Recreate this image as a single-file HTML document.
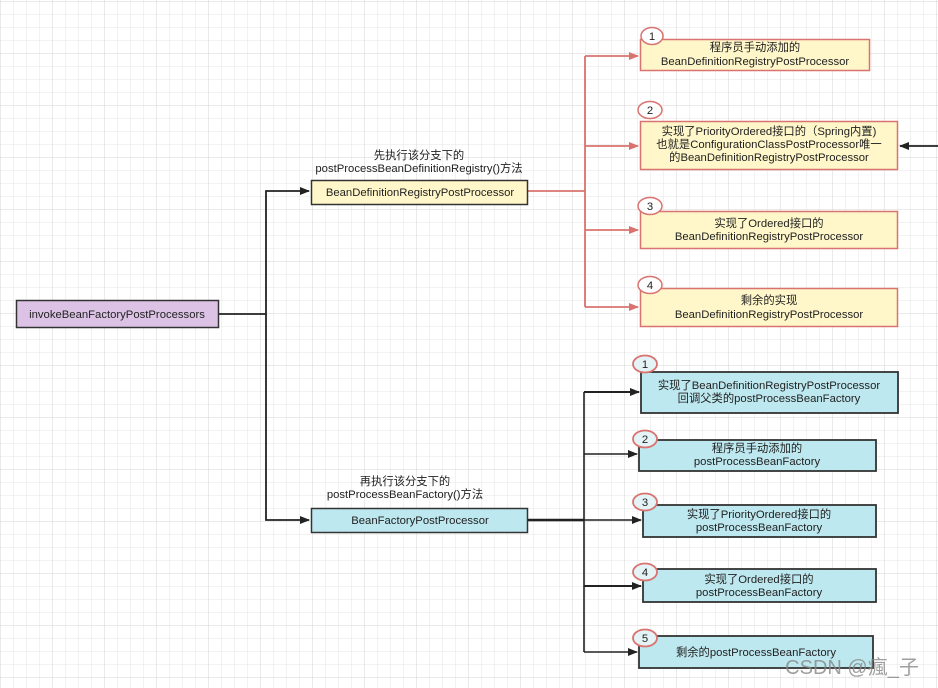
<!DOCTYPE html>
<html><head><meta charset="utf-8"><style>
html,body{margin:0;padding:0;background:#fff}
svg{display:block}
text{font-family:"Liberation Sans","Noto Sans CJK SC",sans-serif;font-size:11.3px;fill:#222}
</style></head><body>
<svg width="938" height="688" viewBox="0 0 938 688" xmlns="http://www.w3.org/2000/svg">
<defs>
<pattern id="g" width="13" height="13" patternUnits="userSpaceOnUse" x="1" y="2">
<path d="M13 0V13M0 13H13" fill="none" stroke="#e6e6e6" stroke-width="1"/>
</pattern>
<pattern id="G" width="52" height="52" patternUnits="userSpaceOnUse" x="1" y="2">
<path d="M52 0V52M0 52H52" fill="none" stroke="#d6d6d6" stroke-width="1"/>
</pattern>
<marker id="ab" markerWidth="10" markerHeight="8" refX="9" refY="4" orient="auto" markerUnits="userSpaceOnUse"><path d="M0,0L10,4L0,8z" fill="#222"/></marker>
<marker id="ar" markerWidth="10" markerHeight="8" refX="9" refY="4" orient="auto" markerUnits="userSpaceOnUse"><path d="M0,0L10,4L0,8z" fill="#d9736f"/></marker>
</defs>
<rect width="938" height="688" fill="#fff"/>
<rect width="938" height="688" fill="url(#g)"/>
<rect width="938" height="688" fill="url(#G)"/>

<path d="M219 314H266V191H309" fill="none" stroke="#222" stroke-width="1.8" marker-end="url(#ab)"/>
<path d="M266 314V520H309" fill="none" stroke="#222" stroke-width="1.8" marker-end="url(#ab)"/>

<g fill="none" stroke="#d9736f" stroke-width="1.8">
<path d="M528 191H585"/>
<path d="M585 56V307"/>
<path d="M585 56H638" marker-end="url(#ar)"/>
<path d="M585 146H638" marker-end="url(#ar)"/>
<path d="M585 230H638" marker-end="url(#ar)"/>
<path d="M585 307H638" marker-end="url(#ar)"/>
</g>
<path d="M938 146H900" stroke="#222" stroke-width="1.8" marker-end="url(#ab)"/>

<g fill="none" stroke="#222" stroke-width="1.6">
<path d="M528 520H584" stroke-width="2.4"/>
<path d="M584 392V652"/>
<path d="M584 392H639" stroke-width="2" marker-end="url(#ab)"/>
<path d="M584 454H637" marker-end="url(#ab)"/>
<path d="M584 520H641" marker-end="url(#ab)"/>
<path d="M584 586H641" stroke-width="2" marker-end="url(#ab)"/>
<path d="M584 652H637" marker-end="url(#ab)"/>
</g>

<rect x="16.5" y="300.5" width="202" height="27" fill="#dcc3e6" stroke="#333" stroke-width="1.5"/>
<text x="117" y="318" text-anchor="middle">invokeBeanFactoryPostProcessors</text>
<text x="419" y="159" text-anchor="middle">先执行该分支下的</text>
<text x="419" y="172" text-anchor="middle">postProcessBeanDefinitionRegistry()方法</text>
<rect x="311.5" y="180.5" width="216" height="24" fill="#fff7c9" stroke="#333" stroke-width="1.5"/>
<text x="420" y="196" text-anchor="middle">BeanDefinitionRegistryPostProcessor</text>
<text x="405" y="485" text-anchor="middle">再执行该分支下的</text>
<text x="405" y="498" text-anchor="middle">postProcessBeanFactory()方法</text>
<rect x="311.5" y="508.5" width="216" height="24" fill="#bde8ef" stroke="#333" stroke-width="1.5"/>
<text x="420" y="524" text-anchor="middle">BeanFactoryPostProcessor</text>

<g stroke="#d9736f" stroke-width="1.5">
<rect x="640.5" y="39.5" width="229" height="31" fill="#fff7c9"/>
<rect x="640.5" y="121.5" width="257" height="48" fill="#fff7c9"/>
<rect x="640.5" y="211.5" width="257" height="37" fill="#fff7c9"/>
<rect x="640.5" y="288.5" width="257" height="38" fill="#fff7c9"/>
<ellipse cx="652" cy="36" rx="11" ry="8.5" fill="#fff"/>
<ellipse cx="650" cy="110" rx="12" ry="8.5" fill="#fff"/>
<ellipse cx="650" cy="206" rx="12" ry="8.5" fill="#fff"/>
<ellipse cx="650" cy="285" rx="12" ry="8.5" fill="#fff"/>
</g>
<g text-anchor="middle">
<text x="652" y="40">1</text><text x="650" y="114">2</text><text x="650" y="210">3</text><text x="650" y="289">4</text>
<text x="755" y="51">程序员手动添加的</text>
<text x="755" y="65">BeanDefinitionRegistryPostProcessor</text>
<text x="769" y="135">实现了PriorityOrdered接口的（Spring内置)</text>
<text x="769" y="148">也就是ConfigurationClassPostProcessor唯一</text>
<text x="769" y="161">的BeanDefinitionRegistryPostProcessor</text>
<text x="769" y="227">实现了Ordered接口的</text>
<text x="769" y="240">BeanDefinitionRegistryPostProcessor</text>
<text x="769" y="304">剩余的实现</text>
<text x="769" y="318">BeanDefinitionRegistryPostProcessor</text>
</g>

<g stroke="#333" stroke-width="1.8">
<rect x="641" y="372" width="257" height="41" fill="#bde8ef"/>
<rect x="639" y="440" width="237" height="31" fill="#bde8ef"/>
<rect x="643" y="505" width="233" height="32" fill="#bde8ef"/>
<rect x="643" y="569" width="233" height="33" fill="#bde8ef"/>
<rect x="639" y="636" width="234" height="32" fill="#bde8ef"/>
</g>
<g stroke="#d9736f" stroke-width="1.8" fill="#e3f3f6">
<ellipse cx="645" cy="364" rx="12" ry="8.5"/>
<ellipse cx="645" cy="439" rx="12" ry="8.5"/>
<ellipse cx="645" cy="502" rx="12" ry="8.5"/>
<ellipse cx="645" cy="572" rx="12" ry="8.5"/>
<ellipse cx="645" cy="638" rx="12" ry="8.5"/>
</g>
<g text-anchor="middle">
<text x="645" y="368">1</text><text x="645" y="443">2</text><text x="645" y="506">3</text><text x="645" y="576">4</text><text x="645" y="642">5</text>
<text x="769" y="389">实现了BeanDefinitionRegistryPostProcessor</text>
<text x="769" y="402">回调父类的postProcessBeanFactory</text>
<text x="757" y="452">程序员手动添加的</text>
<text x="757" y="465">postProcessBeanFactory</text>
<text x="759" y="518">实现了PriorityOrdered接口的</text>
<text x="759" y="531">postProcessBeanFactory</text>
<text x="759" y="583">实现了Ordered接口的</text>
<text x="759" y="596">postProcessBeanFactory</text>
<text x="756" y="656">剩余的postProcessBeanFactory</text>
</g>
<text x="852" y="674" text-anchor="middle" style="font-size:20px;fill:#888;opacity:0.8">CSDN @瘋_子</text>
</svg>
</body></html>
